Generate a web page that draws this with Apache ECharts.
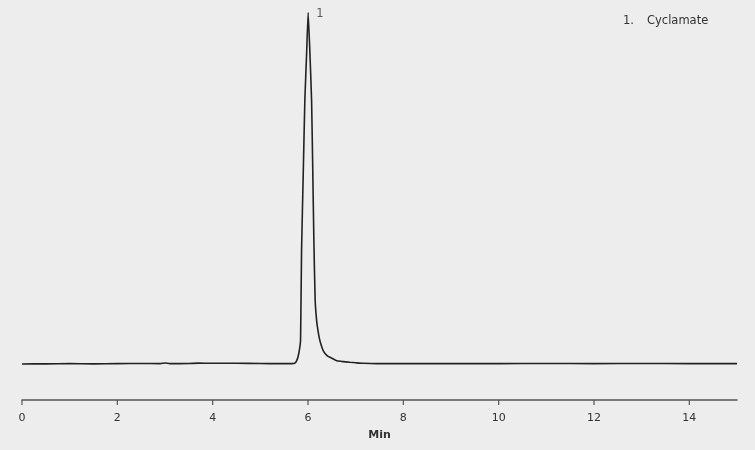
<!DOCTYPE html>
<html>
<head>
<meta charset="utf-8">
<script src="https://cdn.jsdelivr.net/npm/echarts@6/dist/echarts.min.js"></script>
<style>
html,body{margin:0;padding:0;background:#ededed;}
#c{width:755px;height:450px;}
</style>
</head>
<body>
<div id="c"></div>
<script>
// Retention time (min) and detector response (relative, peak = 100)
var times = [0.0, 0.5, 1.0, 1.5, 2.0, 2.5, 2.9, 3.0, 3.1, 3.5, 3.7, 4.0, 4.5, 5.0, 5.4, 5.6, 5.70, 5.735, 5.76, 5.79, 5.82, 5.844, 5.865, 5.90, 5.934, 5.97, 6.003, 6.04, 6.075, 6.10, 6.123, 6.15, 6.18, 6.207, 6.24, 6.276, 6.33, 6.40, 6.46, 6.60, 6.70, 6.88, 7.0, 7.15, 7.44, 7.8, 8.5, 9.0, 10.0, 11.0, 12.0, 13.0, 14.0, 15.0];
var response = [0.0, 0.05, 0.1, 0.05, 0.1, 0.15, 0.1, 0.3, 0.1, 0.15, 0.25, 0.2, 0.2, 0.15, 0.1, 0.1, 0.15, 0.4, 0.9, 2.0, 4.0, 6.8, 32.4, 54.0, 75.1, 88.0, 100.0, 88.5, 75.1, 55.0, 35.3, 18.2, 12.5, 9.7, 7.2, 5.4, 3.5, 2.4, 1.9, 0.95, 0.75, 0.48, 0.35, 0.2, 0.1, 0.1, 0.1, 0.1, 0.1, 0.15, 0.1, 0.15, 0.1, 0.1];
// Peak annotations
var peakNumbers = ['1'];
var peakNames = ['Cyclamate'];
var peakTimes = [6.003];
var peakValues = [100.0];
// x-axis
var xMin = 0, xMax = 15, xInterval = 2;
var xTicks = [0, 2, 4, 6, 8, 10, 12, 14];
var xTitle = 'Min';
var yMin = -10.24, yMax = 100;

var chart = echarts.init(document.getElementById('c'), null, {renderer: 'canvas'});
var lineData = times.map(function (t, i) { return [t, response[i]]; });
var peakData = peakTimes.map(function (t, i) { return {value: [t, peakValues[i]], name: peakNumbers[i]}; });
var tickData = xTicks.map(function (v) { return [v, yMin]; });

var legendGraphics = [];
peakNames.forEach(function (n, i) {
  legendGraphics.push({type: 'text', left: 623, top: 15 + i * 18,
    style: {text: peakNumbers[i] + '.', fill: '#333', font: '11.5px "DejaVu Sans"'}});
  legendGraphics.push({type: 'text', left: 647, top: 15 + i * 18,
    style: {text: n, fill: '#333', font: '11.5px "DejaVu Sans"'}});
});

chart.setOption({
  backgroundColor: '#ededed',
  animation: false,
  grid: {left: 22, right: 18, top: 12.5, bottom: 50, containLabel: false},
  xAxis: {
    type: 'value', min: xMin, max: xMax, interval: xInterval,
    name: xTitle, nameLocation: 'middle', nameGap: 30,
    nameTextStyle: {color: '#333', fontFamily: 'DejaVu Sans', fontSize: 11, fontWeight: 'bold'},
    axisLine: {show: true, onZero: false, lineStyle: {color: '#555', width: 1.5}},
    axisTick: {show: false},
    axisLabel: {color: '#333', fontFamily: 'DejaVu Sans', fontSize: 11, margin: 13,
      formatter: function (v) { return xTicks.indexOf(v) >= 0 ? String(v) : ''; }},
    splitLine: {show: false}
  },
  yAxis: {
    type: 'value', min: yMin, max: yMax, show: false,
    splitLine: {show: false}
  },
  graphic: legendGraphics,
  series: [
    {
      type: 'line', data: lineData, showSymbol: false, smooth: 0.15,
      lineStyle: {color: '#222', width: 1.6}, z: 2
    },
    {
      type: 'scatter', data: peakData, symbolSize: 0, z: 3,
      label: {show: true, position: 'right', distance: 8, offset: [0, 2], formatter: function (p) { return p.name; },
        color: '#333', fontFamily: 'DejaVu Sans', fontSize: 11.5}
    },
    {
      type: 'custom', data: tickData, clip: false, silent: true, z: 1,
      renderItem: function (params, api) {
        var p = api.coord([api.value(0), api.value(1)]);
        return {type: 'line', shape: {x1: p[0], y1: p[1], x2: p[0], y2: p[1] + 5},
          style: {stroke: '#555', lineWidth: 1.2}};
      }
    }
  ]
});
</script>
</body>
</html>
